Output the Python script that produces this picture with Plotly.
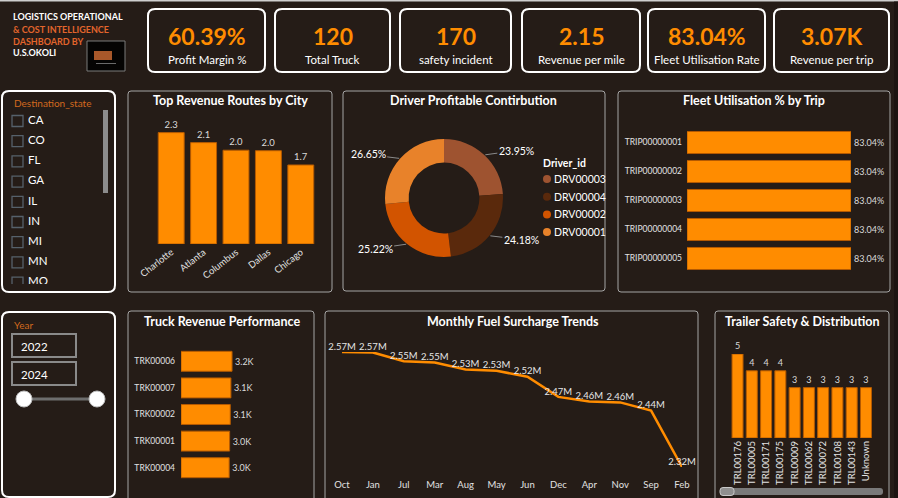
import math
import plotly.graph_objects as go

W, H = 898, 498
BG = "#251C17"
ORANGE = "#FF8C00"
FONT = "Lato"

# ---------------- data ----------------
kpi_values = ["60.39%", "120", "170", "2.15", "83.04%", "3.07K"]
kpi_labels = ["Profit Margin %", "Total Truck", "safety incident",
              "Revenue per mile", "Fleet Utilisation Rate", "Revenue per trip"]

route_cities = ["Charlotte", "Atlanta", "Columbus", "Dallas", "Chicago"]
route_revenue = [2.34, 2.13, 1.97, 1.96, 1.66]

driver_ids = ["DRV00003", "DRV00004", "DRV00002", "DRV00001"]
driver_share = [23.95, 24.18, 25.22, 26.65]

trip_ids = ["TRIP00000001", "TRIP00000002", "TRIP00000003", "TRIP00000004", "TRIP00000005"]
trip_util = [83.04, 83.04, 83.04, 83.04, 83.04]

truck_ids = ["TRK00006", "TRK00007", "TRK00002", "TRK00001", "TRK00004"]
truck_revenue = [3.19, 3.12, 3.08, 3.04, 3.01]  # thousands

fuel_months = ["Oct", "Jan", "Jul", "Mar", "Aug", "May", "Jun", "Dec", "Apr", "Nov", "Sep", "Feb"]
fuel_surcharge = [2.572, 2.571, 2.552, 2.549, 2.534, 2.531, 2.518, 2.474, 2.464, 2.462, 2.444, 2.321]

trailer_ids = ["TRL00176", "TRL00005", "TRL00171", "TRL00175", "TRL00009",
               "TRL00062", "TRL00072", "TRL00108", "TRL00143", "Unknown"]
trailer_incidents = [5, 4, 4, 4, 3, 3, 3, 3, 3, 3]

states = ["CA", "CO", "FL", "GA", "IL", "IN", "MI", "MN", "MO"]
years = ["2022", "2024"]

driver_colors = ["#9E5330", "#5A290C", "#D25400", "#E8822A"]

# ---------------- helpers ----------------
def fx(px):
    return px / W

def fy(py):
    return 1 - py / H

def dom_x(a, b):
    return [fx(a), fx(b)]

def dom_y(bottom, top):
    return [fy(bottom), fy(top)]

shapes = []
annotations = []

def rrect(x0, y0, x1, y1, r, color, width, fill=None):
    p = (f"M {fx(x0+r)},{fy(y0)} L {fx(x1-r)},{fy(y0)} Q {fx(x1)},{fy(y0)} {fx(x1)},{fy(y0+r)} "
         f"L {fx(x1)},{fy(y1-r)} Q {fx(x1)},{fy(y1)} {fx(x1-r)},{fy(y1)} "
         f"L {fx(x0+r)},{fy(y1)} Q {fx(x0)},{fy(y1)} {fx(x0)},{fy(y1-r)} "
         f"L {fx(x0)},{fy(y0+r)} Q {fx(x0)},{fy(y0)} {fx(x0+r)},{fy(y0)} Z")
    shapes.append(dict(type="path", path=p, xref="paper", yref="paper",
                       line=dict(color=color, width=width),
                       fillcolor=fill if fill else "rgba(0,0,0,0)", layer="below"))

def rect(x0, y0, x1, y1, fill, line=None, lw=0, layer="below"):
    shapes.append(dict(type="rect", xref="paper", yref="paper",
                       x0=fx(x0), x1=fx(x1), y0=fy(y1), y1=fy(y0),
                       fillcolor=fill, line=dict(color=line or fill, width=lw), layer=layer))

def text(x, y, s, size=11, color="white", bold=False, xanchor="center", family=FONT):
    annotations.append(dict(x=fx(x), y=fy(y), xref="paper", yref="paper", showarrow=False,
                            text=f"<b>{s}</b>" if bold else s, xanchor=xanchor, yanchor="middle",
                            font=dict(size=size, color=color, family=family)))

fig = go.Figure()

# ---------------- header ----------------
rect(0, 0, W, 1.5, "#CFCFCF")
rect(894, 1.5, W, H, "#1C1411")
text(11, 17, "LOGISTICS OPERATIONAL", 9, "white", True, "left")
text(11, 29, "& COST INTELLIGENCE", 9, "#E2652C", True, "left")
text(11, 41, "DASHBOARD BY", 9, "#E2652C", True, "left")
text(11, 53, "U.S.OKOLI", 9, "white", True, "left")
rect(87, 41, 125, 71, "#050403", "#7A7A7A", 1)
rect(94, 51, 112, 60, "#A8582A")
rect(96, 63, 116, 64, "#6A6A6A")

card_x = [(148, 265), (275, 390), (400, 511), (522, 640), (648, 765), (774, 889)]
for (x0, x1), v, lab in zip(card_x, kpi_values, kpi_labels):
    rrect(x0, 9, x1, 72, 7, "white", 2)
    text((x0 + x1) / 2, 36, v, 23, ORANGE, True)
    text((x0 + x1) / 2, 60, lab, 11.5, "white")

# ---------------- panels ----------------
PG = "#A5A5A5"
rrect(2, 91, 115, 292, 7, "white", 2)
rrect(128, 91, 332, 292, 3, PG, 1)
rrect(343, 91, 605, 291, 3, PG, 1)
rrect(618, 91, 890, 292, 3, PG, 1)
rrect(2, 312, 115, 497, 7, "white", 2)
rrect(128, 311, 314, 505, 3, PG, 1)
rrect(325, 311, 698, 505, 3, PG, 1)
rrect(715, 311, 889, 505, 3, PG, 1)

text(231, 100, "Top Revenue Routes by City", 12.5, "white", True)
text(474, 100, "Driver Profitable Contirbution", 12.5, "white", True)
text(754, 100, "Fleet Utilisation % by Trip", 12.5, "white", True)
text(222, 321, "Truck Revenue Performance", 12.5, "white", True)
text(513, 321, "Monthly Fuel Surcharge Trends", 12.5, "white", True)
text(802, 321, "Trailer Safety & Distribution", 12.5, "white", True)

# ---------------- slicers ----------------
text(12, 103, "Destination_state", 10, "#D2691E", False, "left")
fig.add_trace(go.Scatter(
    x=[17.5] * len(states), y=list(range(len(states))), mode="markers",
    marker=dict(symbol="square-open", size=11, color="#56616B", line=dict(width=1.3)),
    xaxis="x7", yaxis="y7", hoverinfo="skip", showlegend=False, cliponaxis=True))
fig.add_trace(go.Scatter(
    x=[28] * len(states), y=list(range(len(states))), mode="text", text=states,
    textposition="middle right", textfont=dict(size=11.5, color="white", family=FONT),
    xaxis="x7", yaxis="y7", hoverinfo="skip", showlegend=False, cliponaxis=True))
rect(103, 110, 108, 193, "#8C8C8C")

text(12, 325, "Year", 10, "#D2691E", False, "left")
for i, yv in enumerate(years):
    y0 = 334 + i * 28
    rect(12, y0, 76, y0 + 23, "rgba(0,0,0,0)", "#8A8A8A", 2)
    text(19, y0 + 12, yv, 11.5, "white", False, "left")
shapes.append(dict(type="line", xref="paper", yref="paper", x0=fx(24), x1=fx(97), y0=fy(399), y1=fy(399),
                   line=dict(color="#6E6E6E", width=3), layer="above"))
for cx in (24, 97):
    shapes.append(dict(type="circle", xref="paper", yref="paper", x0=fx(cx - 8), x1=fx(cx + 8),
                       y0=fy(407), y1=fy(391), fillcolor="white", line=dict(color="#BDBDBD", width=1),
                       layer="above"))

# ---------------- charts ----------------
BAR_LINE = dict(color="#B55A00", width=1)

# Top revenue routes
fig.add_trace(go.Bar(
    x=route_cities, y=route_revenue, width=0.8, marker=dict(color=ORANGE, line=BAR_LINE),
    text=[f"{v:.1f}" for v in route_revenue], textposition="outside", cliponaxis=False,
    constraintext="none", textfont=dict(size=9.5, color="#DADADA", family=FONT),
    xaxis="x", yaxis="y", showlegend=False))

# Fleet utilisation
fig.add_trace(go.Bar(
    y=trip_ids, x=trip_util, orientation="h", width=0.76, marker=dict(color=ORANGE, line=BAR_LINE),
    text=[f"{v:.2f}%" for v in trip_util], textposition="outside", cliponaxis=False,
    constraintext="none", textfont=dict(size=9, color="#DADADA", family=FONT),
    xaxis="x2", yaxis="y2", showlegend=False))

# Truck revenue
fig.add_trace(go.Bar(
    y=truck_ids, x=truck_revenue, orientation="h", width=0.75, marker=dict(color=ORANGE, line=BAR_LINE),
    text=[f"{v:.1f}K" for v in truck_revenue], textposition="outside", cliponaxis=False,
    constraintext="none", textfont=dict(size=9, color="#DADADA", family=FONT),
    xaxis="x3", yaxis="y3", showlegend=False))

# Fuel surcharge line
fig.add_trace(go.Scatter(
    x=fuel_months, y=fuel_surcharge, mode="lines+text", line=dict(color=ORANGE, width=2.5),
    text=[f"{v:.2f}M" for v in fuel_surcharge], textposition="top center", cliponaxis=False,
    textfont=dict(size=9.5, color="#E6E6E6", family=FONT),
    xaxis="x4", yaxis="y4", showlegend=False))

# Trailer safety
fig.add_trace(go.Bar(
    x=trailer_ids, y=trailer_incidents, width=0.77, marker=dict(color=ORANGE, line=BAR_LINE),
    text=[str(v) for v in trailer_incidents], textposition="outside", cliponaxis=False,
    constraintext="none", textfont=dict(size=9, color="#DADADA", family=FONT),
    xaxis="x5", yaxis="y5", showlegend=False))
rrect(720, 488, 883, 495, 3, "#7A7A7A", 0, "#7A7A7A")
rrect(720, 487.5, 734, 495.5, 3, "#C8C8C8", 1, "#8F8F8F")

# Driver donut
CX, CY, R = 444, 198, 59
fig.add_trace(go.Pie(
    labels=driver_ids, values=driver_share, hole=0.6, sort=False, direction="clockwise",
    marker=dict(colors=driver_colors, line=dict(width=0)), textinfo="none",
    domain=dict(x=dom_x(CX - R, CX + R), y=dom_y(CY + R, CY - R)),
    hoverinfo="label+percent", showlegend=False))
total = sum(driver_share)
cum = 0
for v in driver_share:
    mid = (cum + v / 2) / total * 2 * math.pi
    cum += v
    px = CX + R * math.sin(mid)
    py = CY - R * math.cos(mid)
    annotations.append(dict(x=fx(px), y=fy(py), xref="paper", yref="paper", showarrow=True,
                            ax=32 if math.sin(mid) > 0 else -32, ay=-6 * math.cos(mid),
                            arrowhead=0, arrowwidth=1, arrowcolor="#8A8A8A", standoff=1,
                            text=f"{v:.2f}%", font=dict(size=10.5, color="white", family=FONT)))
text(541, 163, "Driver_id", 10.5, "white", True, "left")
for i, (d, c) in enumerate(zip(driver_ids, driver_colors)):
    yy = 179 + i * 17.7
    shapes.append(dict(type="circle", xref="paper", yref="paper", x0=fx(543), x1=fx(551),
                       y0=fy(yy + 4), y1=fy(yy - 4), fillcolor=c, line=dict(width=0)))
    text(552, yy, d, 10.5, "white", False, "left")

# ---------------- axes ----------------
hidden = dict(showgrid=False, zeroline=False, showline=False, showticklabels=False, ticks="",
              fixedrange=True, automargin=False)
cat_ticks = dict(showgrid=False, zeroline=False, showline=False, ticks="", fixedrange=True,
                 automargin=False, tickfont=dict(size=9.5, color="#E2E2E2", family=FONT))

fig.update_layout(
    xaxis=dict(**cat_ticks, domain=dom_x(155, 317), anchor="y", tickangle=-38),
    yaxis=dict(**hidden, domain=dom_y(244, 125), anchor="x", range=[0, 2.5]),
    xaxis2=dict(**hidden, domain=dom_x(687, 851), anchor="y2", range=[0, 83.04]),
    yaxis2=dict(**cat_ticks, domain=dom_y(273, 128), anchor="x2", autorange="reversed",
                ticklabelstandoff=4),
    xaxis3=dict(**hidden, domain=dom_x(181, 245), anchor="y3", range=[0, 4]),
    yaxis3=dict(**cat_ticks, domain=dom_y(481, 348), anchor="x3", autorange="reversed",
                ticklabelstandoff=5),
    xaxis4=dict(**cat_ticks, domain=dom_x(342, 682), anchor="y4", range=[0, 11],
                ticklabelstandoff=10),
    yaxis4=dict(**hidden, domain=dom_y(467, 352), anchor="x4", range=[2.321, 2.572]),
    xaxis5=dict(**cat_ticks, domain=dom_x(730.4, 873.1), anchor="y5", range=[-0.5, 9.5],
                tickangle=-90),
    yaxis5=dict(**hidden, domain=dom_y(438, 354), anchor="x5", range=[0, 5]),
    xaxis7=dict(**hidden, domain=dom_x(0, 100), anchor="y7", range=[0, 100]),
    yaxis7=dict(**hidden, domain=dom_y(284, 108), anchor="x7", range=[8.07, -0.644]),
)
fig.update_yaxes(tickfont_size=8.5, selector=dict(anchor="x2"))
fig.update_yaxes(tickfont_size=8.5, selector=dict(anchor="x3"))

fig.update_layout(
    width=W, height=H, margin=dict(l=0, r=0, t=0, b=0, pad=0, autoexpand=False),
    paper_bgcolor=BG, plot_bgcolor="rgba(0,0,0,0)",
    font=dict(family=FONT, color="white"),
    shapes=shapes, annotations=annotations, showlegend=False,
)

fig.write_html("out.html", config=dict(displayModeBar=False))
